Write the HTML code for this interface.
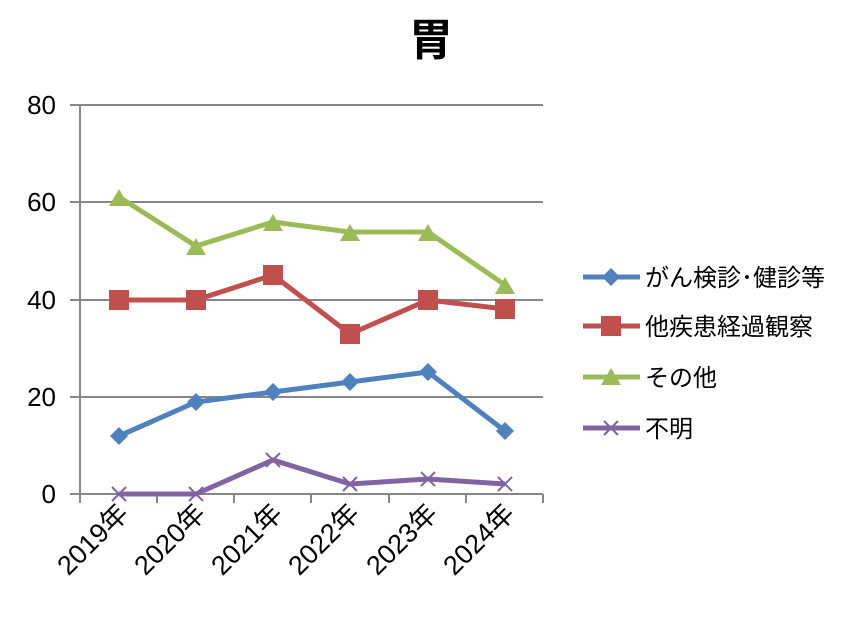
<!DOCTYPE html>
<html><head><meta charset="utf-8"><style>
body{margin:0;background:#fff;}
svg{display:block;font-family:"Liberation Sans","Noto Sans CJK JP",sans-serif;}
</style></head><body>
<svg width="854" height="618" viewBox="0 0 854 618">
<text x="431" y="55" font-size="44" font-weight="bold" text-anchor="middle">胃</text>
<g stroke="#868686" stroke-width="2">
<line x1="70" y1="105" x2="543" y2="105"/>
<line x1="70" y1="202" x2="543" y2="202"/>
<line x1="70" y1="300" x2="543" y2="300"/>
<line x1="70" y1="397" x2="543" y2="397"/>
<line x1="70" y1="494" x2="543" y2="494"/>
<line x1="80" y1="105" x2="80" y2="494"/>
<line x1="80" y1="494" x2="80" y2="503"/><line x1="157" y1="494" x2="157" y2="503"/><line x1="234" y1="494" x2="234" y2="503"/><line x1="311" y1="494" x2="311" y2="503"/><line x1="389" y1="494" x2="389" y2="503"/><line x1="466" y1="494" x2="466" y2="503"/><line x1="543" y1="494" x2="543" y2="503"/>
</g>
<g font-size="26" text-anchor="end">
<text x="56" y="114">80</text><text x="56" y="211">60</text><text x="56" y="309">40</text><text x="56" y="406">20</text><text x="56" y="503">0</text>
</g>
<g font-size="27" text-anchor="end">
<text transform="translate(130,515) rotate(-45)">2019年</text>
<text transform="translate(207,515) rotate(-45)">2020年</text>
<text transform="translate(284,515) rotate(-45)">2021年</text>
<text transform="translate(361,515) rotate(-45)">2022年</text>
<text transform="translate(439,515) rotate(-45)">2023年</text>
<text transform="translate(516,515) rotate(-45)">2024年</text>
</g>
<polyline fill="none" stroke="#9BBB59" stroke-width="5" stroke-linejoin="round" points="119,197 196,246 273,222 350,232 428,232 505,285"/>
<g fill="#9BBB59">
<polygon points="119,189 129,206 109,206"/><polygon points="196,238 206,255 186,255"/><polygon points="273,214 283,231 263,231"/><polygon points="350,224 360,241 340,241"/><polygon points="428,224 438,241 418,241"/><polygon points="505,277 515,294 495,294"/>
</g>
<polyline fill="none" stroke="#C0504D" stroke-width="5" stroke-linejoin="round" points="119,300 196,300 273,275 350,334 428,300 505,309"/>
<g fill="#C0504D">
<rect x="109" y="290" width="20" height="20"/><rect x="186" y="290" width="20" height="20"/><rect x="263" y="265" width="20" height="20"/><rect x="340" y="324" width="20" height="20"/><rect x="418" y="290" width="20" height="20"/><rect x="495" y="299" width="20" height="20"/>
</g>
<polyline fill="none" stroke="#4F81BD" stroke-width="5" stroke-linejoin="round" points="119,436 196,402 273,392 350,382 428,372 505,431"/>
<g fill="#4F81BD">
<polygon points="119,427 128,436 119,445 110,436"/><polygon points="196,393 205,402 196,411 187,402"/><polygon points="273,383 282,392 273,401 264,392"/><polygon points="350,373 359,382 350,391 341,382"/><polygon points="428,363 437,372 428,381 419,372"/><polygon points="505,422 514,431 505,440 496,431"/>
</g>
<polyline fill="none" stroke="#8064A2" stroke-width="5" stroke-linejoin="round" points="119,494 196,494 273,460 350,484 428,479 505,484"/>
<g stroke="#8064A2" stroke-width="2">
<path d="M112,487L126,501M126,487L112,501"/><path d="M189,487L203,501M203,487L189,501"/><path d="M266,453L280,467M280,453L266,467"/><path d="M343,477L357,491M357,477L343,491"/><path d="M421,472L435,486M435,472L421,486"/><path d="M498,477L512,491M512,477L498,491"/>
</g>
<g font-size="24">
<line x1="583" y1="277" x2="640" y2="277" stroke="#4F81BD" stroke-width="5"/><polygon points="611,268 620,277 611,286 602,277" fill="#4F81BD"/>
<text x="645" y="286">がん検診･健診等</text>
<line x1="583" y1="326" x2="640" y2="326" stroke="#C0504D" stroke-width="5"/><rect x="601" y="316" width="20" height="20" fill="#C0504D"/>
<text x="645" y="335">他疾患経過観察</text>
<line x1="583" y1="377" x2="640" y2="377" stroke="#9BBB59" stroke-width="5"/><polygon points="611,368 621,385 601,385" fill="#9BBB59"/>
<text x="645" y="386">その他</text>
<line x1="583" y1="428" x2="640" y2="428" stroke="#8064A2" stroke-width="5"/><path d="M604,421L618,435M618,421L604,435" stroke="#8064A2" stroke-width="2"/>
<text x="645" y="437">不明</text>
</g>
</svg>
</body></html>
